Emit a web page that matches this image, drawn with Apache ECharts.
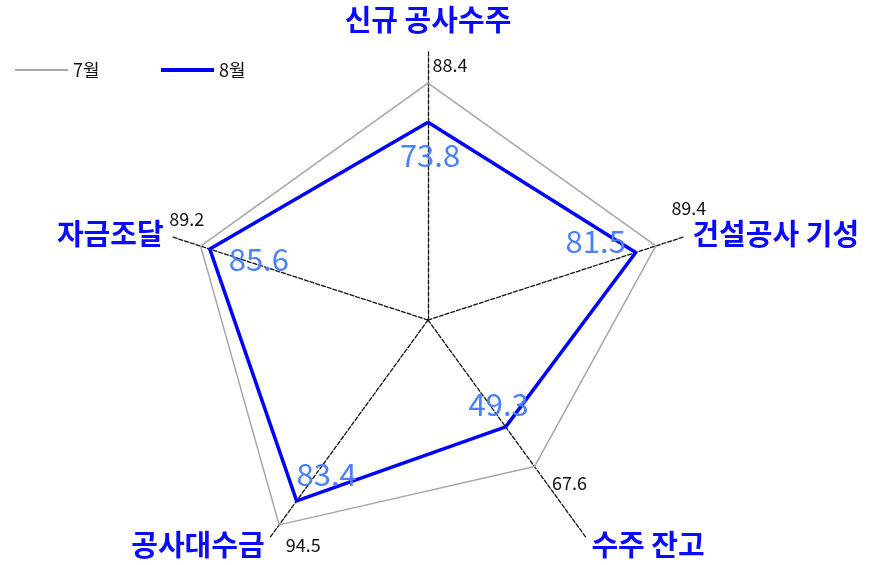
<!DOCTYPE html>
<html>
<head>
<meta charset="utf-8">
<script src="https://cdn.jsdelivr.net/npm/echarts@6/dist/echarts.min.js"></script>
<style>
  html, body { margin: 0; padding: 0; background: #fff; }
  #chart { width: 880px; height: 565px; }
</style>
</head>
<body>
<div id="chart"></div>
<script>
// indicators, counter-clockwise from the top (ECharts radar order)
const categories = ['신규 공사수주', '자금조달', '공사대수금', '수주 잔고', '건설공사 기성']
const july = [88.4, 89.2, 94.5, 67.6, 89.4]
const august = [73.8, 85.6, 83.4, 49.3, 81.5]
const seriesNames = ['7월', '8월']
const axisMax = 100

// where each value label sits relative to its vertex (px), same order as categories
const julyLabelShift = [[22, -18], [-14, -27], [24, 20], [35, 17], [33, -38]]
const augustLabelShift = [[2, 33], [49, 10], [30, -27], [-7, -23], [-40, -11]]

const FONT = '"Noto Sans CJK KR", "Noto Sans", sans-serif'

// one rich style per vertex, padding pushes the text off the point
function shiftRich(shifts, base) {
  const rich = {}
  shifts.forEach(([dx, dy], i) => {
    rich['p' + i] = Object.assign({}, base, {
      padding: [dy > 0 ? 2 * dy : 0, dx < 0 ? -2 * dx : 0, dy < 0 ? -2 * dy : 0, dx > 0 ? 2 * dx : 0],
    })
  })
  return rich
}

function labelFormatter(values) {
  return (p) => '{p' + values.indexOf(p.value) + '|' + p.value + '}'
}

const julyText = { fontFamily: FONT, fontSize: 18, color: '#111' }
const augustText = { fontFamily: FONT, fontSize: 31, color: '#4a80ff' }
const nameText = { fontFamily: FONT, fontSize: 29, fontWeight: 'bold', color: '#0a0aff' }

const myChart = echarts.init(document.getElementById('chart'))
const option = {
  animation: false,
  backgroundColor: '#fff',
  legend: [
    {
      data: [seriesNames[0]],
      left: 10,
      top: 56,
      icon: 'rect',
      itemWidth: 53,
      itemHeight: 2,
      itemGap: 6,
      textStyle: { fontFamily: FONT, fontSize: 18, color: '#111' },
    },
    {
      data: [seriesNames[1]],
      left: 156,
      top: 56,
      icon: 'rect',
      itemWidth: 53,
      itemHeight: 4,
      textStyle: { fontFamily: FONT, fontSize: 18, color: '#111' },
    },
  ],
  radar: {
    center: [428, 320],
    radius: 268,
    startAngle: 90,
    splitNumber: 1,
    nameGap: 10,
    indicator: categories.map((name) => ({ name, min: 0, max: axisMax })),
    axisName: Object.assign({}, nameText, {
      // the top title sits a little higher than the others
      formatter: (name) => (name === categories[0] ? '{top|' + name + '}' : name),
      rich: { top: Object.assign({}, nameText, { padding: [0, 0, 8, 0] }) },
    }),
    axisLine: { lineStyle: { color: '#111', type: [4, 2], width: 1.3 } },
    splitLine: { show: false },
    splitArea: { show: false },
    axisTick: { show: false },
    axisLabel: { show: false },
  },
  series: [
    {
      type: 'radar',
      symbol: 'circle',
      symbolSize: 1,
      itemStyle: { color: '#a6a6a6' },
      lineStyle: { color: '#a6a6a6', width: 1.5 },
      label: {
        show: true,
        position: 'inside',
        formatter: labelFormatter(july),
        rich: shiftRich(julyLabelShift, julyText),
      },
      data: [{ name: seriesNames[0], value: july }],
    },
    {
      type: 'radar',
      symbol: 'circle',
      symbolSize: 1,
      itemStyle: { color: '#0000ff' },
      lineStyle: { color: '#0000ff', width: 3.5 },
      label: {
        show: true,
        position: 'inside',
        formatter: labelFormatter(august),
        rich: shiftRich(augustLabelShift, augustText),
      },
      data: [{ name: seriesNames[1], value: august }],
    },
  ],
}
option && myChart.setOption(option)
</script>
</body>
</html>
